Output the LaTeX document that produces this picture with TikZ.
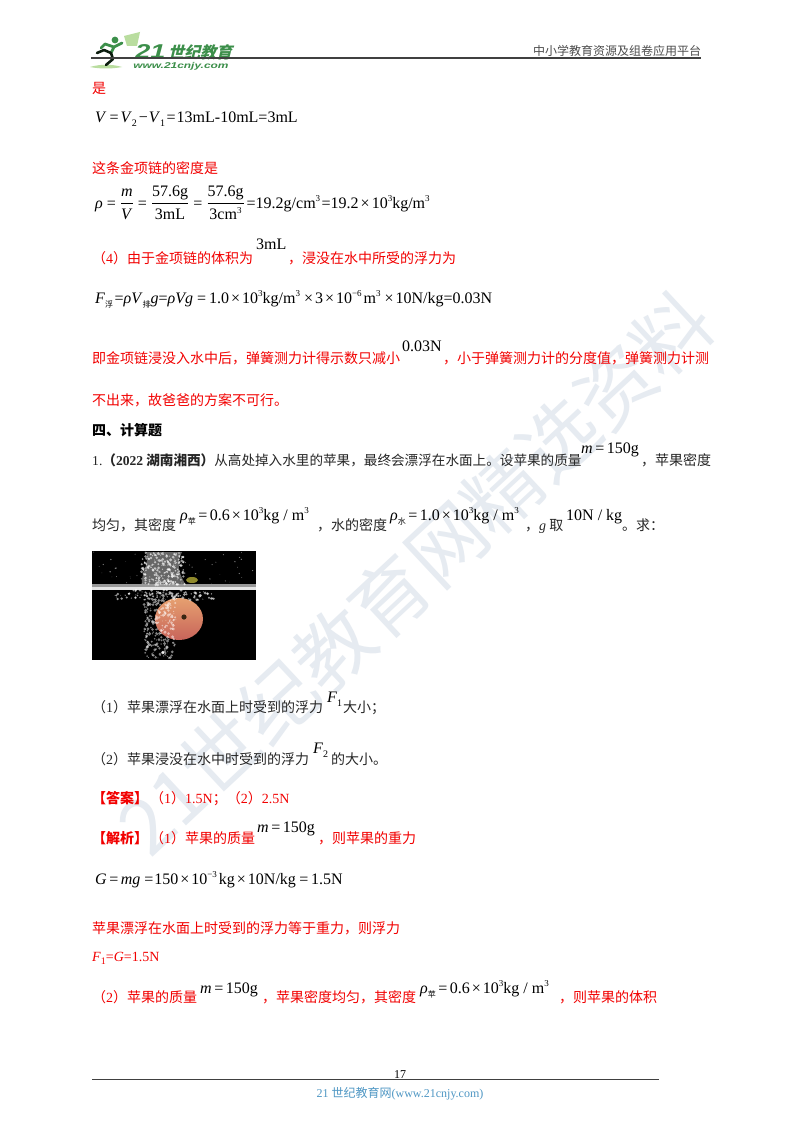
\documentclass[tikz,border=0pt]{standalone}
\usepackage{fontspec}
\setmainfont{Liberation Serif}
\newfontfamily\cjk{Noto Sans CJK SC}
\newfontfamily\cjkslant[FakeSlant=0.25]{Noto Sans CJK SC}
\newfontfamily\logofont{Liberation Sans}
\definecolor{markgray}{HTML}{E6EBF1}
\definecolor{logogreen}{HTML}{3C8F4A}
\definecolor{logolight}{HTML}{B9DD9F}
\definecolor{footblue}{HTML}{4F97C4}
\definecolor{appletop}{HTML}{E6A070}
\definecolor{applelow}{HTML}{C8645A}
\newcommand{\lat}[1]{{\rmfamily #1}}
\newcommand{\up}[1]{\raisebox{.42em}{\fontsize{9}{9}\selectfont #1}}
\newcommand{\low}[1]{\raisebox{-.25em}{\fontsize{10}{10}\selectfont #1}}
\newcommand{\lowcn}[1]{\raisebox{-.3em}{\cjk\fontsize{8}{8}\selectfont #1}}
\newcommand{\eqs}{\kern2.5pt=\kern2.5pt}
\newcommand{\tms}{\kern2pt×\kern2pt}
\tikzstyle{cnblack} = [anchor=base west, inner sep=0pt, font=\cjk\fontsize{14}{16}\selectfont, text=black!85]
\tikzstyle{cnred}   = [cnblack, text=red!95!black]
\tikzstyle{cnbold}  = [cnred, font=\cjk\bfseries\fontsize{14}{16}\selectfont]
\tikzstyle{formula} = [anchor=base west, inner sep=0pt, font=\fontsize{16}{18}\selectfont, text=black]
\tikzstyle{rule}    = [line width=1.2pt, black!75]
\begin{document}
\begin{tikzpicture}[x=1pt, y=-1pt]
    \useasboundingbox (0,0) rectangle (800,1132);
    \fill[white] (0,0) rectangle (800,1132);

    % watermark
    \node (mark) [rotate=43, inner sep=0pt, text=markgray, font=\cjk\fontsize{77}{80}\selectfont] at (415,573) {21世纪教育网精选资料};

    % logo
    \fill[logolight] (90,67) .. controls (100,64) and (112,64) .. (122,67) .. controls (112,69) and (100,69) .. cycle;
    \fill[logolight] (124,36) -- (140,32) -- (137,46) -- (127,46) -- cycle;
    \fill[logogreen] (115,40) circle (3.4);
    \draw[logogreen, line width=2.8pt, line cap=round, line join=round]
      (122,43) -- (114,47) -- (111,53)
      (114,47) -- (105,44) -- (101,48);
    \draw[black!80!logogreen, line width=2.6pt, line cap=round, line join=round]
      (111,53) -- (104,50) -- (97,53)
      (111,53) -- (113,59) -- (106,65);
    \node (logoname) [anchor=base west, inner sep=0pt, xscale=1.35, text=logogreen, font=\logofont\bfseries\itshape\fontsize{20}{22}\selectfont] at (135,59) {21};
    \node (logocn) [anchor=base west, inner sep=0pt, text=logogreen, font=\cjkslant\bfseries\fontsize{16}{18}\selectfont] at (168,59) {世纪教育};
    \node (logourl) [anchor=base west, inner sep=0pt, xscale=1.42, text=logogreen, font=\logofont\bfseries\itshape\fontsize{8.4}{10}\selectfont] at (133,68.5) {www.21cnjy.com};

    % header
    \node (platform) [cnblack, font=\cjk\fontsize{12}{14}\selectfont, text=black!70] at (533,56) {中小学教育资源及组卷应用平台};
    \coordinate (headleft) at (91,58);
    \coordinate (headright) at (701,58);
    \draw [rule] (headleft) -- (headright);

    % upper part
    \node (shi)     [cnred]   at (92,93)   {是};
    \node (vol)     [formula] at (95,122)  {\textit{V}\kern3pt=\kern2pt\textit{V}\low{2}\kern2pt−\kern1pt\textit{V}\low{1}\kern1.5pt=\kern1pt 13mL-10mL=3mL};
    \node (midu)    [cnred]   at (92,173)  {这条金项链的密度是};
    \node (rho)     [formula] at (95,208)  {\textit{ρ} = $\displaystyle\frac{\mbox{\textit{m}}}{\mbox{\textit{V}}}$ = $\displaystyle\frac{\mbox{57.6g}}{\mbox{3mL}}$ = $\displaystyle\frac{\mbox{57.6g}}{\mbox{3cm\up{3}}}$\kern2pt=19.2g/cm\up{3}\kern1.5pt=19.2\tms 10\up{3}kg/m\up{3}};
    \node (four)    [cnred]   at (92,263)  {（\lat{4}）由于金项链的体积为};
    \node (threeml) [formula] at (256,249) {3mL};
    \node (fourb)   [cnred]   at (288,263) {，浸没在水中所受的浮力为};
    \node (buoy)    [formula] at (95,303)  {\textit{F}\lowcn{浮}\kern1.5pt=\textit{ρV}\lowcn{排}\textit{g}=\textit{ρVg}\kern4pt=\kern3pt 1.0\tms 10\up{3}kg/m\up{3}\kern2pt\tms 3\tms 10\up{−6}\kern2pt m\up{3}\kern2pt\tms 10N/kg=0.03N};
    \node (jin)     [cnred]   at (92,363)  {即金项链浸没入水中后，弹簧测力计得示数只减小};
    \node (small)   [formula] at (402,351) {0.03N};
    \node (jinb)    [cnred]   at (443,363) {，小于弹簧测力计的分度值，弹簧测力计测};
    \node (buchu)   [cnred]   at (92,405)  {不出来，故爸爸的方案不可行。};
    \node (section) [cnbold, text=black] at (92,435) {四、计算题};

    % question
    \node (qone)  [cnblack, font=\cjk\fontsize{13.6}{16}\selectfont] at (92,465)  {\lat{1.}\textbf{（\lat{2022} 湖南湘西）}从高处掉入水里的苹果，最终会漂浮在水面上。设苹果的质量};
    \node (qmass) [formula] at (581,453) {\textit{m}\eqs 150g};
    \node (qoneb) [cnblack] at (641,465) {，苹果密度};
    \node (qtwo)  [cnblack] at (92,530)  {均匀，其密度};
    \node (rhoa)  [formula] at (180,520) {\textit{ρ}\lowcn{苹}\eqs 0.6\tms 10\up{3}kg / m\up{3}};
    \node (qtwob) [cnblack] at (317,530) {，水的密度};
    \node (rhow)  [formula] at (390,520) {\textit{ρ}\lowcn{水}\eqs 1.0\tms 10\up{3}kg / m\up{3}};
    \node (qtwoc) [cnblack] at (525,530) {，\lat{\textit{g}} 取};
    \node (gval)  [formula] at (566,520) {10N / kg};
    \node (qtwod) [cnblack] at (622,530) {。求：};

    % photo of the apple
    \begin{scope}
      \clip (92,551) rectangle (256,660);
      \fill[black] (92,551) rectangle (256,660);
      \fill[black!60] (146,552) .. controls (150,565) and (140,575) .. (142,585) -- (186,585) .. controls (176,570) and (178,560) .. (182,552) -- cycle;
      \fill[olive!70!gray] (192,580) ellipse [x radius=6, y radius=3];
      \fill[black!40] (92,584) rectangle (256,587);
      \fill[black!10] (92,587) rectangle (256,589.5);
      \shade[top color=appletop, bottom color=applelow] (179,619) ellipse [x radius=24, y radius=21];
      \fill[black!70!brown] (184,617) circle (2.6);
      \pgfmathsetseed{7}
      % bubbles under the surface
      \foreach \i in {1,...,260} {
        \pgfmathsetmacro\bubx{rand*16+160}
        \pgfmathsetmacro\buby{rnd*66+592}
        \fill[white, opacity=.5] (\bubx,\buby) circle (.4+rnd*1.3);
      }
      \foreach \i in {1,...,90} {
        \pgfmathsetmacro\bubx{rand*50+165}
        \pgfmathsetmacro\buby{rnd*10+590}
        \fill[white, opacity=.6] (\bubx,\buby) circle (.4+rnd*1.2);
      }
      % splash above the surface
      \foreach \i in {1,...,220} {
        \pgfmathsetmacro\bubx{rand*22+163}
        \pgfmathsetmacro\buby{rnd*33+552}
        \fill[white, opacity=.6] (\bubx,\buby) circle (.4+rnd*1.2);
      }
      \foreach \i in {1,...,50} {
        \pgfmathsetmacro\bubx{rand*82+174}
        \pgfmathsetmacro\buby{rnd*32+552}
        \fill[white, opacity=.5] (\bubx,\buby) circle (.2+rnd*.6);
      }
    \end{scope}

    % sub questions
    \node (subone)  [cnblack] at (92,712)  {（\lat{1}）苹果漂浮在水面上时受到的浮力};
    \node (fone)    [formula] at (327,702) {\textit{F}\low{1}};
    \node (suboneb) [cnblack] at (343,712) {大小；};
    \node (subtwo)  [cnblack] at (92,764)  {（\lat{2}）苹果浸没在水中时受到的浮力};
    \node (ftwo)    [formula] at (313,753) {\textit{F}\low{2}};
    \node (subtwob) [cnblack] at (331,764) {的大小。};

    % answer
    \node (answer)  [cnbold]  at (92,803)  {【答案】};
    \node (answerb) [cnred]   at (150,803) {（\lat{1}）\lat{1.5N}；（\lat{2}）\lat{2.5N}};
    \node (parse)   [cnbold]  at (92,843)  {【解析】};
    \node (parseb)  [cnred]   at (150,843) {（\lat{1}）苹果的质量};
    \node (pmass)   [formula] at (257,832) {\textit{m}\eqs 150g};
    \node (parsec)  [cnred]   at (318,843) {，则苹果的重力};
    \node (weight)  [formula] at (95,884)  {\textit{G}\eqs\textit{mg}\kern4pt=\kern1pt 150\tms 10\up{−3}\kern2pt kg\tms 10N/kg\kern1pt\eqs 1.5N};
    \node (equal)   [cnred]   at (92,933)  {苹果漂浮在水面上时受到的浮力等于重力，则浮力};
    \node (fresult) [anchor=base west, inner sep=0pt, text=red!95!black, font=\fontsize{14}{16}\selectfont] at (92,961) {\textit{F}\low{1}=\textit{G}=1.5N};
    \node (parsetwo)  [cnred]   at (92,1002)  {（\lat{2}）苹果的质量};
    \node (pmasstwo)  [formula] at (200,993)  {\textit{m}\eqs 150g};
    \node (parsetwob) [cnred]   at (262,1002) {，苹果密度均匀，其密度};
    \node (rhoc)      [formula] at (420,993)  {\textit{ρ}\lowcn{苹}\eqs 0.6\tms 10\up{3}kg / m\up{3}};
    \node (parsetwoc) [cnred]   at (559,1002) {，则苹果的体积};

    % footer
    \node (pagenum) [anchor=base, inner sep=0pt, font=\fontsize{12}{14}\selectfont] at (400,1078) {17};
    \coordinate (footleft) at (92,1079.5);
    \coordinate (footright) at (659,1079.5);
    \draw [rule] (footleft) -- (footright);
    \node (footer) [anchor=base, inner sep=0pt, text=footblue, font=\fontsize{12}{14}\selectfont] at (400,1097) {21 {\cjk 世纪教育网}(www.21cnjy.com)};
\end{tikzpicture}
\end{document}
